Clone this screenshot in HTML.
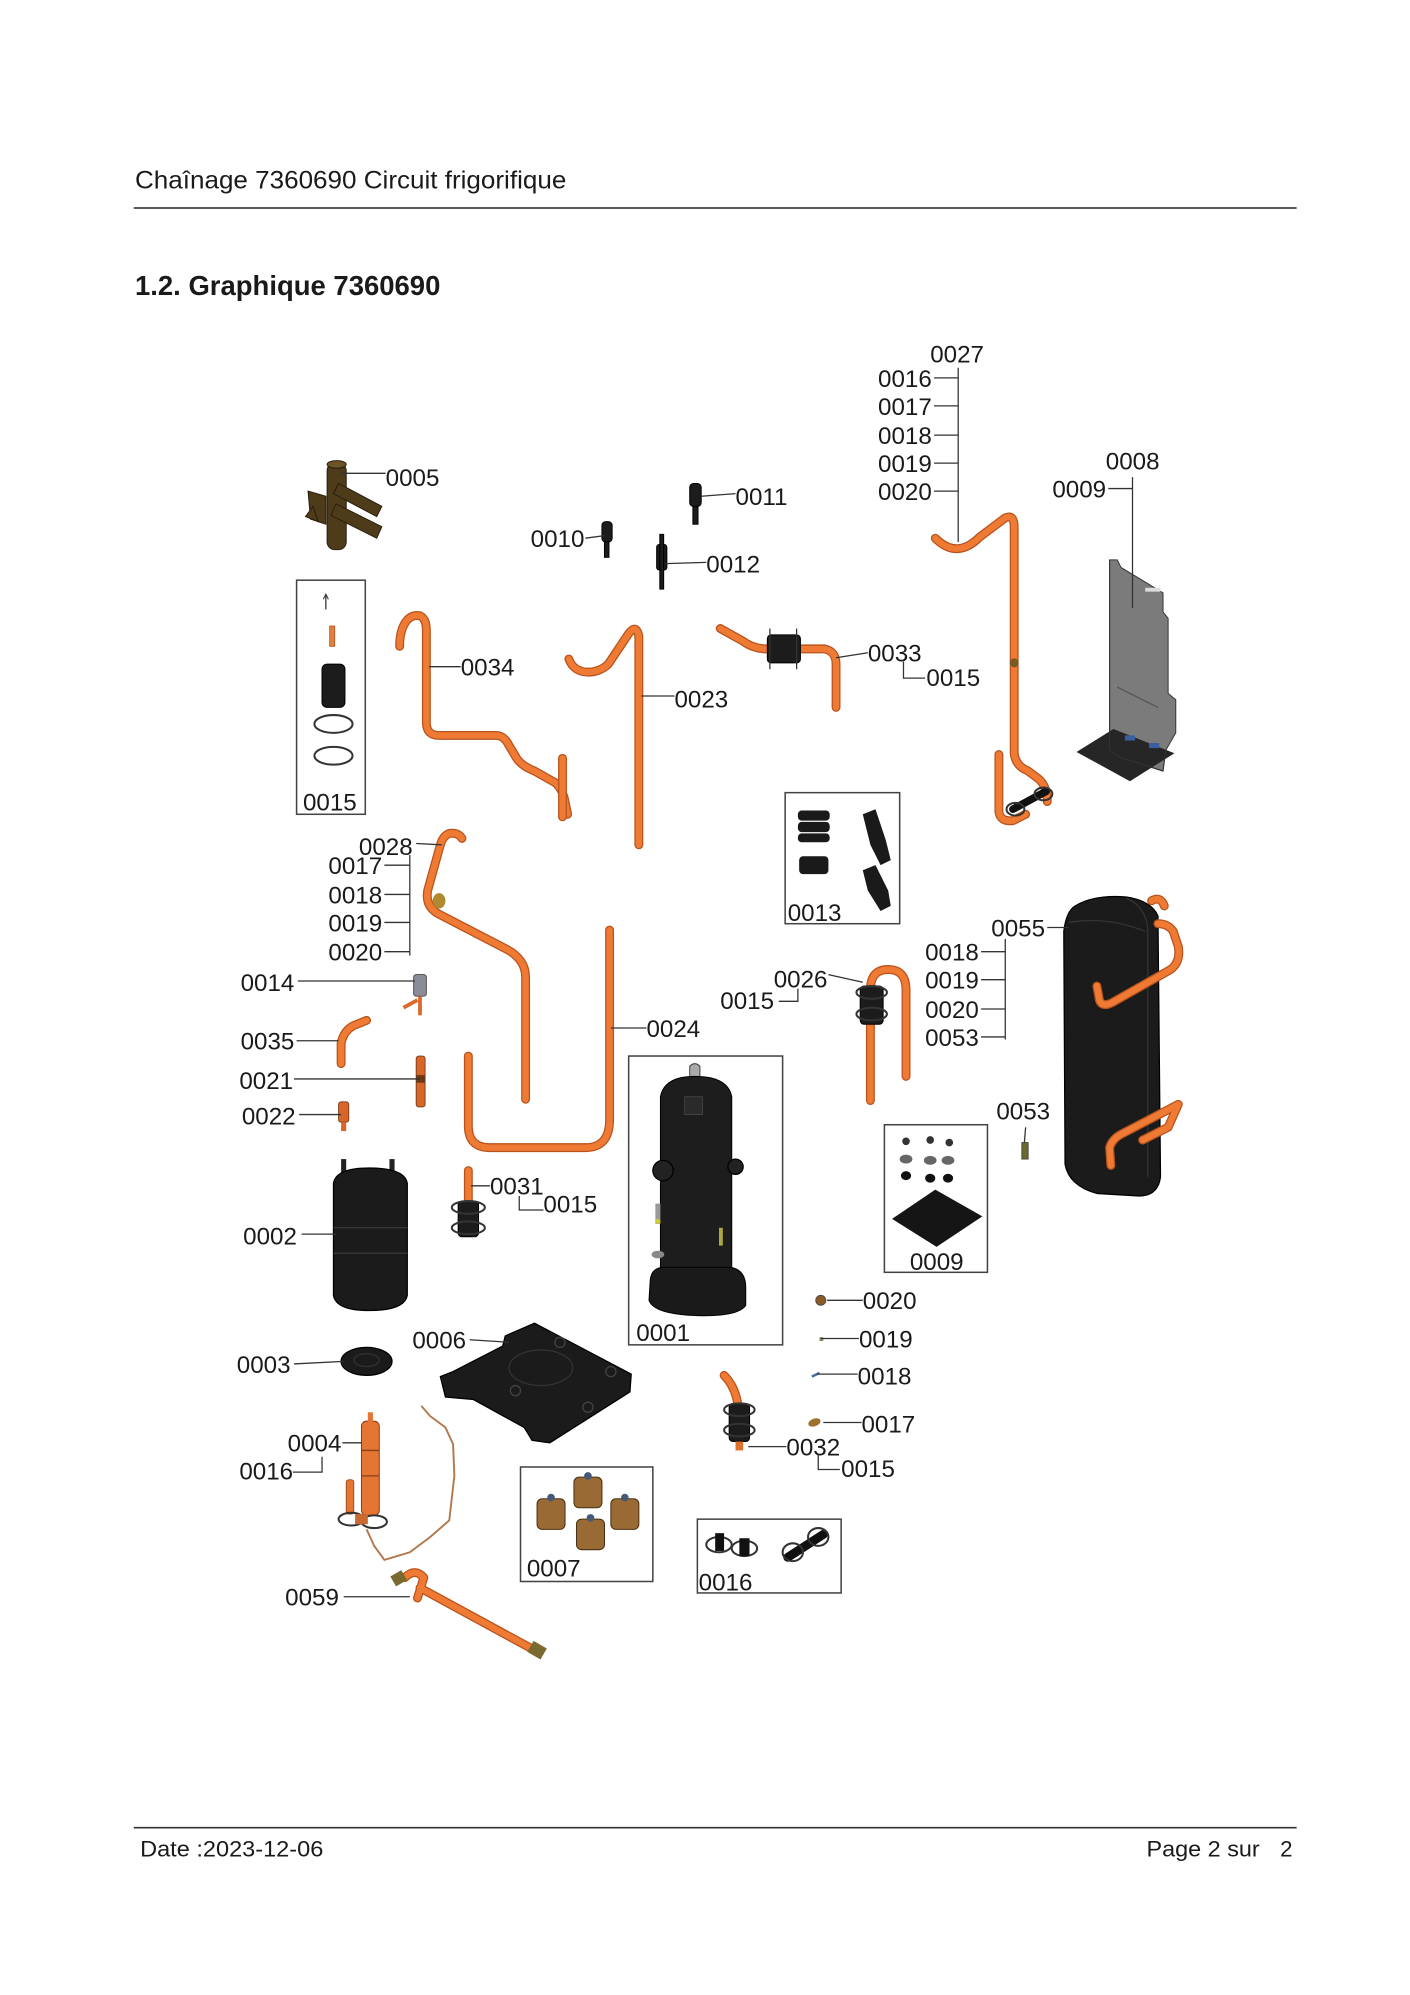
<!DOCTYPE html>
<html><head><meta charset="utf-8">
<style>
html,body{margin:0;padding:0;background:#fff;}
svg{position:absolute;left:0;top:0;display:block;}
text{font-family:"Liberation Sans",Arial,sans-serif;fill:#1a1a1a;}
.lb{font-size:19px;}
.ld{stroke:#333;stroke-width:1;fill:none;}
.po{fill:none;stroke:#b9531c;stroke-width:7;stroke-linecap:round;stroke-linejoin:round;}
.pi{fill:none;stroke:#ee7a34;stroke-width:5;stroke-linecap:round;stroke-linejoin:round;}
.box{fill:none;stroke:#444;stroke-width:1.2;}
.blk{fill:#1c1c1c;stroke:#000;stroke-width:0.8;}
.ring{fill:none;stroke:#333;stroke-width:1.6;}
</style></head>
<body>
<svg width="1410" height="1995" viewBox="0 0 1108 1568" xmlns="http://www.w3.org/2000/svg">
<!-- header -->
<text x="106" y="148" font-size="19.5" textLength="339" lengthAdjust="spacingAndGlyphs">Chaînage 7360690 Circuit frigorifique</text>
<line x1="105" y1="163.5" x2="1019" y2="163.5" stroke="#222" stroke-width="1.2"/>
<text x="106" y="232" font-size="22" font-weight="bold" textLength="240" lengthAdjust="spacingAndGlyphs">1.2. Graphique 7360690</text>

<!-- footer -->
<line x1="105" y1="1436.5" x2="1019" y2="1436.5" stroke="#333" stroke-width="1.2"/>
<text x="110" y="1459" font-size="17.5" textLength="144" lengthAdjust="spacingAndGlyphs">Date :2023-12-06</text>
<text x="901" y="1459" font-size="17.5" textLength="89" lengthAdjust="spacingAndGlyphs">Page 2 sur</text>
<text x="1006" y="1459" font-size="17.5">2</text>

<!-- ===== parts ===== -->
<!-- 0005 valve -->
<g fill="#4d3b1a" stroke="#2a1f0c" stroke-width="0.8">
<rect x="257" y="364" width="15" height="68" rx="6"/>
<ellipse cx="264.5" cy="365" rx="7.5" ry="3" fill="#6a5428"/>
<path d="M266 380 L300 398 L296 406 L262 388 Z"/>
<path d="M264 396 L300 414 L296 423 L260 405 Z"/>
<path d="M242 386 L256 390 L256 412 L244 408 Z"/>
<path d="M246 398 L240 406 L250 410 Z"/>
</g>
<!-- 0011, 0010, 0012 -->
<g class="blk">
<rect x="542" y="380" width="9" height="18" rx="3"/>
<rect x="544.5" y="398" width="4" height="14"/>
<rect x="473" y="410" width="8" height="16" rx="3"/>
<rect x="475" y="426" width="3.5" height="12"/>
<rect x="516" y="428" width="8" height="20" rx="2"/>
<rect x="518.5" y="420" width="3" height="43"/>
</g>

<!-- box 0015 -->
<rect class="box" x="233" y="456" width="54" height="184"/>
<line x1="256" y1="468" x2="256" y2="479" stroke="#333" stroke-width="1"/>
<path d="M254 471 L256 467 L258 471" fill="none" stroke="#333" stroke-width="0.8"/>
<rect x="259" y="492" width="4" height="16" fill="#e0803f" stroke="#a84f1b" stroke-width="0.6"/>
<rect class="blk" x="253" y="522" width="18" height="34" rx="4"/>
<ellipse class="ring" cx="262" cy="569" rx="15" ry="7"/>
<ellipse class="ring" cx="262" cy="594" rx="15" ry="7"/>
<text class="lb" x="238" y="637">0015</text>

<!-- 0034 pipe -->
<path class="po" d="M314 508 C314 490 322 482 330 484 C334 486 335 490 335 496 L335 568 Q335 578 345 578 L390 578 Q396 578 400 586 L406 596 Q410 602 420 606 L436 615 Q442 620 444 630 L446 640"/>
<path class="pi" d="M314 508 C314 490 322 482 330 484 C334 486 335 490 335 496 L335 568 Q335 578 345 578 L390 578 Q396 578 400 586 L406 596 Q410 602 420 606 L436 615 Q442 620 444 630 L446 640"/>
<path class="po" d="M442 596 L442 642"/><path class="pi" d="M442 596 L442 642"/>

<!-- 0023 pipe -->
<path class="po" d="M447 518 C452 532 470 530 478 522 L494 498 Q500 490 502 500 L502 664"/>
<path class="pi" d="M447 518 C452 532 470 530 478 522 L494 498 Q500 490 502 500 L502 664"/>

<!-- 0033 -->
<path class="po" d="M566 494 L584 504 Q592 510 603 510 M628 510 L648 510 Q657 512 657 522 L657 556"/>
<path class="pi" d="M566 494 L584 504 Q592 510 603 510 M628 510 L648 510 Q657 512 657 522 L657 556"/>
<rect class="blk" x="603" y="499" width="26" height="22" rx="3"/>
<line x1="605" y1="494" x2="605" y2="526" stroke="#333"/>
<line x1="626" y1="494" x2="626" y2="526" stroke="#333"/>

<!-- 0027 pipe -->
<path class="po" d="M735 423 Q752 440 770 422 L790 407 Q797 404 797 414 L797 592 Q798 602 808 606 L816 612 Q823 618 823 630"/>
<path class="pi" d="M735 423 Q752 440 770 422 L790 407 Q797 404 797 414 L797 592 Q798 602 808 606 L816 612 Q823 618 823 630"/>
<path class="po" d="M785 593 L785 638 Q786 646 796 645 L806 640"/>
<path class="pi" d="M785 593 L785 638 Q786 646 796 645 L806 640"/>
<circle cx="797" cy="521" r="3.5" fill="#7a5a20"/>
<path d="M796 636 L822 622" stroke="#111" stroke-width="6" stroke-linecap="round"/>
<ellipse class="ring" cx="798" cy="636" rx="7" ry="5"/>
<ellipse class="ring" cx="820" cy="624" rx="7" ry="5"/>

<!-- 0008 plate -->
<path d="M872 440 L878 440 L881 446 L914 466 L914 481 L918 486 L918 545 L924 550 L924 576 L916 590 L914 606 L880 595 L872 590 Z" fill="#7b7b7b" stroke="#3a3a3a" stroke-width="0.8"/>
<path d="M846 591 L875 573 L923 592 L888 614 Z" fill="#262626"/>
<path d="M872 440 L872 590 L880 595 L914 606 L916 590" fill="none" stroke="#333" stroke-width="0.8"/>
<rect x="900" y="462" width="12" height="3" fill="#ddd"/>
<rect x="884" y="578" width="8" height="4" fill="#3a5fa0"/>
<rect x="903" y="584" width="8" height="4" fill="#3a5fa0"/>
<path d="M878 540 L910 556" stroke="#555" stroke-width="1"/>

<!-- box 0013 -->
<rect class="box" x="617" y="623" width="90" height="103"/>
<g fill="#1a1a1a">
<rect x="627" y="637" width="25" height="8" rx="3"/>
<rect x="627" y="646" width="25" height="8" rx="3"/>
<rect x="627" y="655" width="25" height="7" rx="3"/>
<rect x="628" y="673" width="23" height="14" rx="3"/>
<path d="M678 640 L688 636 L696 660 L700 676 L692 680 L684 664 Z"/>
<path d="M678 684 L688 680 L698 700 L700 712 L692 716 L682 700 Z"/>
</g>
<text class="lb" x="619" y="724">0013</text>

<!-- 0028 pipe -->
<path class="po" d="M363 659 Q360 654 353 655 Q348 657 346 664 L336 700 Q334 712 344 718 L398 746 Q413 754 413 768 L413 864"/>
<path class="pi" d="M363 659 Q360 654 353 655 Q348 657 346 664 L336 700 Q334 712 344 718 L398 746 Q413 754 413 768 L413 864"/>
<ellipse cx="345" cy="708" rx="5" ry="6" fill="#b08a30"/>
<!-- 0024 pipe -->
<path class="po" d="M479 731 L479 880 Q479 902 460 902 L385 902 Q368 902 368 885 L368 830"/>
<path class="pi" d="M479 731 L479 880 Q479 902 460 902 L385 902 Q368 902 368 885 L368 830"/>

<!-- 0014 -->
<rect x="325" y="766" width="10" height="17" rx="2" fill="#8a8d96" stroke="#444" stroke-width="0.7"/>
<path d="M330 783 L330 798" stroke="#d96c2c" stroke-width="3"/>
<path d="M317 792 L328 786" stroke="#d96c2c" stroke-width="3"/>
<!-- 0035 -->
<path class="po" d="M268 836 L268 820 Q270 810 278 806 L288 802"/><path class="pi" d="M268 836 L268 820 Q270 810 278 806 L288 802"/>
<!-- 0021 -->
<rect x="327" y="830" width="7" height="40" rx="2" fill="#d8662a" stroke="#7a3a14" stroke-width="0.7"/>
<rect x="327" y="845" width="7" height="6" fill="#6a3a18"/>
<!-- 0022 -->
<rect x="266" y="866" width="8" height="16" rx="2" fill="#d8662a" stroke="#7a3a14" stroke-width="0.7"/>
<rect x="268" y="882" width="4" height="7" fill="#d8662a"/>

<!-- 0026 -->
<path class="po" d="M684 865 L684 778 Q684 762 698 762 Q712 762 712 778 L712 846"/>
<path class="pi" d="M684 865 L684 778 Q684 762 698 762 Q712 762 712 778 L712 846"/>
<rect class="blk" x="676" y="775" width="18" height="30" rx="3"/>
<ellipse class="ring" cx="685" cy="780" rx="12" ry="5"/>
<ellipse class="ring" cx="685" cy="797" rx="12" ry="5"/>

<!-- 0055 heat exchanger -->
<path d="M845 712 Q860 703 885 705 Q905 708 910 720 L912 925 Q910 940 895 940 L862 938 Q840 932 837 915 L836 732 Q838 716 845 712 Z" fill="#1b1b1b" stroke="#000" stroke-width="1"/>
<path d="M885 706 Q900 712 902 730 L902 925" fill="none" stroke="#333" stroke-width="1"/>
<path d="M840 725 Q870 720 900 732" fill="none" stroke="#333" stroke-width="1"/>
<path class="po" d="M862 775 L864 786 Q866 792 874 788 L920 762 Q928 756 926 744 L922 732 Q918 726 910 726"/>
<path class="pi" d="M862 775 L864 786 Q866 792 874 788 L920 762 Q928 756 926 744 L922 732 Q918 726 910 726"/>
<path class="po" d="M905 708 Q912 704 915 712"/><path class="pi" d="M905 708 Q912 704 915 712"/>
<path class="po" d="M873 916 L872 902 Q874 895 882 891 L926 868 L918 886 L898 896"/>
<path class="pi" d="M873 916 L872 902 Q874 895 882 891 L926 868 L918 886 L898 896"/>
<!-- 0053 small -->
<rect x="803" y="898" width="5" height="13" fill="#6a6a30" stroke="#333" stroke-width="0.6"/>

<!-- box 0001 compressor -->
<rect class="box" x="494" y="830" width="121" height="227"/>
<path d="M542 847 L542 838 Q546 834 550 838 L550 847 Z" fill="#aaa" stroke="#444" stroke-width="0.8"/>
<path d="M519 862 Q522 846 546 846 Q572 846 575 862 L575 1003 L519 1003 Z" fill="#1d1d1d" stroke="#000" stroke-width="0.8"/>
<path d="M511 1006 Q512 996 522 996 L574 996 Q586 998 586 1012 L586 1026 Q580 1035 548 1034 Q514 1033 510 1022 Z" fill="#1a1a1a" stroke="#000" stroke-width="0.8"/>
<circle cx="521" cy="920" r="8" fill="#222" stroke="#000"/>
<circle cx="578" cy="917" r="6" fill="#222" stroke="#000"/>
<rect x="538" y="862" width="14" height="14" fill="#2a2a2a" stroke="#444" stroke-width="0.7"/>
<rect x="515" y="946" width="4" height="16" fill="#999"/>
<circle cx="517" cy="960" r="2" fill="#cc3"/>
<ellipse cx="517" cy="986" rx="5" ry="3" fill="#888"/>
<rect x="565" y="965" width="3" height="14" fill="#aa4"/>
<text class="lb" x="500" y="1054">0001</text>

<!-- box 0009 -->
<rect class="box" x="695" y="884" width="81" height="116"/>
<g fill="#333">
<circle cx="712" cy="897" r="3"/><circle cx="731" cy="896" r="3"/><circle cx="746" cy="898" r="3"/>
<ellipse cx="712" cy="911" rx="5" ry="3.5" fill="#666"/><ellipse cx="731" cy="912" rx="5" ry="3.5" fill="#666"/><ellipse cx="745" cy="912" rx="5" ry="3.5" fill="#666"/>
<ellipse cx="712" cy="924" rx="4" ry="3.5" fill="#111"/><ellipse cx="731" cy="926" rx="4" ry="3.5" fill="#111"/><ellipse cx="745" cy="926" rx="4" ry="3.5" fill="#111"/>
</g>
<path d="M701 958 L735 935 L772 956 L736 980 Z" fill="#151515"/>
<text class="lb" x="715" y="998">0009</text>

<!-- 0002 accumulator -->
<rect x="268" y="911" width="4" height="14" fill="#222"/><rect x="306" y="911" width="4" height="14" fill="#222"/>
<path d="M262 930 Q264 918 290 918 Q318 918 320 930 L320 1018 Q318 1030 290 1030 Q264 1030 262 1018 Z" fill="#1b1b1b" stroke="#000"/>
<line x1="262" y1="965" x2="320" y2="965" stroke="#3a3a3a"/><line x1="262" y1="985" x2="320" y2="985" stroke="#3a3a3a"/>

<!-- 0031 -->
<path class="po" d="M368 920 L368 946"/><path class="pi" d="M368 920 L368 946"/>
<rect class="blk" x="360" y="944" width="16" height="28" rx="3"/>
<ellipse class="ring" cx="368" cy="949" rx="13" ry="5"/>
<ellipse class="ring" cx="368" cy="965" rx="13" ry="5"/>

<!-- 0006 plate -->
<path d="M346 1082 L356 1078 L395 1058 L397 1050 L420 1040 L496 1080 L495 1094 L432 1134 L418 1132 L412 1122 L372 1100 L350 1098 Z" fill="#1b1b1b" stroke="#000"/>
<ellipse cx="425" cy="1075" rx="25" ry="14" fill="none" stroke="#333"/>
<circle cx="440" cy="1055" r="4" fill="none" stroke="#444"/><circle cx="405" cy="1093" r="4" fill="none" stroke="#444"/>
<circle cx="462" cy="1106" r="4" fill="none" stroke="#444"/><circle cx="480" cy="1078" r="4" fill="none" stroke="#444"/>

<!-- 0003 -->
<ellipse cx="288" cy="1070" rx="20" ry="11" fill="#1b1b1b" stroke="#000"/>
<ellipse cx="288" cy="1069" rx="10" ry="5" fill="none" stroke="#333"/>

<!-- 0004 -->
<path d="M331 1105 L338 1113 L350 1122 L356 1135 L357 1160 L353 1195 L338 1208 L322 1220 L302 1226 L294 1215 L288 1202" fill="none" stroke="#b3774c" stroke-width="1.5"/>
<rect x="284" y="1117" width="14" height="74" rx="4" fill="#e47533" stroke="#8a3f14" stroke-width="0.8"/>
<rect x="289" y="1110" width="4" height="8" fill="#e47533"/>
<line x1="284" y1="1140" x2="298" y2="1140" stroke="#8a3f14"/><line x1="284" y1="1160" x2="298" y2="1160" stroke="#8a3f14"/>
<rect x="272" y="1163" width="6" height="27" rx="2" fill="#e47533" stroke="#8a3f14" stroke-width="0.6"/>
<ellipse class="ring" cx="276" cy="1194" rx="10" ry="5"/>
<ellipse class="ring" cx="294" cy="1196" rx="10" ry="5"/>
<rect x="279" y="1190" width="10" height="8" fill="#c86a30"/>

<!-- box 0007 -->
<rect class="box" x="409" y="1153" width="104" height="90"/>
<g fill="#9a6a34" stroke="#4a3012" stroke-width="0.8">
<rect x="422" y="1178" width="22" height="24" rx="4"/>
<rect x="451" y="1161" width="22" height="24" rx="4"/>
<rect x="480" y="1178" width="22" height="24" rx="4"/>
<rect x="453" y="1194" width="22" height="24" rx="4"/>
</g>
<g fill="#445a78"><circle cx="433" cy="1177" r="3"/><circle cx="462" cy="1160" r="3"/><circle cx="491" cy="1177" r="3"/><circle cx="464" cy="1193" r="3"/></g>
<text class="lb" x="414" y="1239">0007</text>

<!-- box 0016 -->
<rect class="box" x="548" y="1194" width="113" height="58"/>
<ellipse class="ring" cx="565" cy="1214" rx="10" ry="6"/><ellipse class="ring" cx="585" cy="1217" rx="10" ry="6"/>
<rect x="562" y="1205" width="7" height="14" fill="#111"/><rect x="581" y="1209" width="8" height="14" fill="#111"/>
<path d="M619 1224 L647 1206" stroke="#111" stroke-width="7" stroke-linecap="round"/>
<ellipse class="ring" cx="623" cy="1220" rx="8" ry="7"/><ellipse class="ring" cx="643" cy="1208" rx="8" ry="7"/>
<text class="lb" x="549" y="1250">0016</text>

<!-- 0059 -->
<path class="po" d="M318 1240 Q326 1232 333 1240 L328 1256 M330 1248 L420 1297"/>
<path class="pi" d="M318 1240 Q326 1232 333 1240 L328 1256 M330 1248 L420 1297"/>
<rect x="308" y="1236" width="10" height="9" fill="#7a6a30" transform="rotate(-30 313 1240)"/>
<rect x="416" y="1292" width="12" height="10" fill="#7a6a30" transform="rotate(30 422 1297)"/>

<!-- 0032 -->
<path class="po" d="M569 1081 Q578 1090 580 1105"/><path class="pi" d="M569 1081 Q578 1090 580 1105"/>
<rect class="blk" x="573" y="1103" width="16" height="30" rx="3"/>
<ellipse class="ring" cx="581" cy="1108" rx="12" ry="5"/><ellipse class="ring" cx="581" cy="1124" rx="12" ry="5"/>
<rect x="578" y="1133" width="6" height="7" fill="#e0702f"/>

<!-- small items -->
<circle cx="645" cy="1022" r="4" fill="#8a5a28" stroke="#444" stroke-width="0.6"/>
<rect x="644" y="1051" width="3" height="3" fill="#886"/>
<path d="M638 1082 L644 1079" stroke="#4a6aa0" stroke-width="2"/>
<ellipse cx="640" cy="1118" rx="5" ry="3" fill="#a07030" transform="rotate(-20 640 1118)"/>

<!-- ===== leaders ===== -->
<g class="ld">
<line x1="268" y1="372" x2="303" y2="372"/>
<line x1="551" y1="390" x2="578" y2="388"/>
<line x1="460" y1="423" x2="475" y2="421"/>
<line x1="523" y1="443" x2="555" y2="442"/>
<line x1="337" y1="524" x2="362" y2="524"/>
<line x1="504" y1="547" x2="530" y2="547"/>
<line x1="657" y1="517" x2="682" y2="513"/>
<polyline points="710,520 710,533 727,533"/>
<line x1="753" y1="289" x2="753" y2="426"/>
<line x1="734" y1="297" x2="753" y2="297"/>
<line x1="734" y1="319" x2="753" y2="319"/>
<line x1="734" y1="342" x2="753" y2="342"/>
<line x1="734" y1="364" x2="753" y2="364"/>
<line x1="734" y1="386" x2="753" y2="386"/>
<line x1="871" y1="384" x2="890" y2="384"/>
<line x1="890" y1="375" x2="890" y2="478"/>
<line x1="327" y1="663" x2="347" y2="664"/>
<line x1="322" y1="672" x2="322" y2="751"/>
<line x1="302" y1="680" x2="322" y2="680"/>
<line x1="302" y1="703" x2="322" y2="703"/>
<line x1="302" y1="725" x2="322" y2="725"/>
<line x1="302" y1="748" x2="322" y2="748"/>
<line x1="234" y1="771" x2="326" y2="771"/>
<line x1="233" y1="818" x2="266" y2="818"/>
<line x1="231" y1="848" x2="330" y2="848"/>
<line x1="235" y1="876" x2="268" y2="876"/>
<line x1="480" y1="808" x2="508" y2="808"/>
<line x1="651" y1="766" x2="678" y2="772"/>
<polyline points="612,787 627,787 627,777"/>
<line x1="823" y1="729" x2="840" y2="729"/>
<line x1="790" y1="738" x2="790" y2="817"/>
<line x1="771" y1="748" x2="790" y2="748"/>
<line x1="771" y1="770" x2="790" y2="770"/>
<line x1="771" y1="793" x2="790" y2="793"/>
<line x1="771" y1="815" x2="790" y2="815"/>
<line x1="806" y1="886" x2="805" y2="898"/>
<line x1="237" y1="970" x2="264" y2="970"/>
<line x1="370" y1="932" x2="385" y2="932"/>
<polyline points="408,940 408,951 427,951"/>
<line x1="369" y1="1053" x2="400" y2="1055"/>
<line x1="231" y1="1072" x2="270" y2="1070"/>
<line x1="650" y1="1022" x2="678" y2="1022"/>
<line x1="645" y1="1052" x2="675" y2="1052"/>
<line x1="642" y1="1080" x2="674" y2="1080"/>
<line x1="647" y1="1118" x2="677" y2="1118"/>
<line x1="588" y1="1137" x2="618" y2="1137"/>
<polyline points="643,1143 643,1155 660,1155"/>
<line x1="269" y1="1134" x2="284" y2="1134"/>
<polyline points="230,1157 253,1157 253,1145"/>
<line x1="270" y1="1255" x2="322" y2="1255"/>
</g>

<!-- ===== labels ===== -->
<g class="lb">
<text class="lb" x="303" y="382">0005</text>
<text class="lb" x="578" y="397">0011</text>
<text class="lb" x="417" y="430">0010</text>
<text class="lb" x="555" y="450">0012</text>
<text class="lb" x="362" y="531">0034</text>
<text class="lb" x="530" y="556">0023</text>
<text class="lb" x="682" y="520">0033</text>
<text class="lb" x="728" y="539">0015</text>
<text class="lb" x="731" y="285">0027</text>
<text class="lb" x="690" y="304">0016</text>
<text class="lb" x="690" y="326">0017</text>
<text class="lb" x="690" y="349">0018</text>
<text class="lb" x="690" y="371">0019</text>
<text class="lb" x="690" y="393">0020</text>
<text class="lb" x="869" y="369">0008</text>
<text class="lb" x="827" y="391">0009</text>
<text class="lb" x="282" y="672">0028</text>
<text class="lb" x="258" y="687">0017</text>
<text class="lb" x="258" y="710">0018</text>
<text class="lb" x="258" y="732">0019</text>
<text class="lb" x="258" y="755">0020</text>
<text class="lb" x="189" y="779">0014</text>
<text class="lb" x="189" y="825">0035</text>
<text class="lb" x="188" y="856">0021</text>
<text class="lb" x="190" y="884">0022</text>
<text class="lb" x="508" y="815">0024</text>
<text class="lb" x="608" y="776">0026</text>
<text class="lb" x="566" y="793">0015</text>
<text class="lb" x="779" y="736">0055</text>
<text class="lb" x="727" y="755">0018</text>
<text class="lb" x="727" y="777">0019</text>
<text class="lb" x="727" y="800">0020</text>
<text class="lb" x="727" y="822">0053</text>
<text class="lb" x="783" y="880">0053</text>
<text class="lb" x="191" y="978">0002</text>
<text class="lb" x="385" y="939">0031</text>
<text class="lb" x="427" y="953">0015</text>
<text class="lb" x="324" y="1060">0006</text>
<text class="lb" x="186" y="1079">0003</text>
<text class="lb" x="678" y="1029">0020</text>
<text class="lb" x="675" y="1059">0019</text>
<text class="lb" x="674" y="1088">0018</text>
<text class="lb" x="677" y="1126">0017</text>
<text class="lb" x="618" y="1144">0032</text>
<text class="lb" x="661" y="1161">0015</text>
<text class="lb" x="226" y="1141">0004</text>
<text class="lb" x="188" y="1163">0016</text>
<text class="lb" x="224" y="1262">0059</text>
</g>
</svg>
</body></html>
